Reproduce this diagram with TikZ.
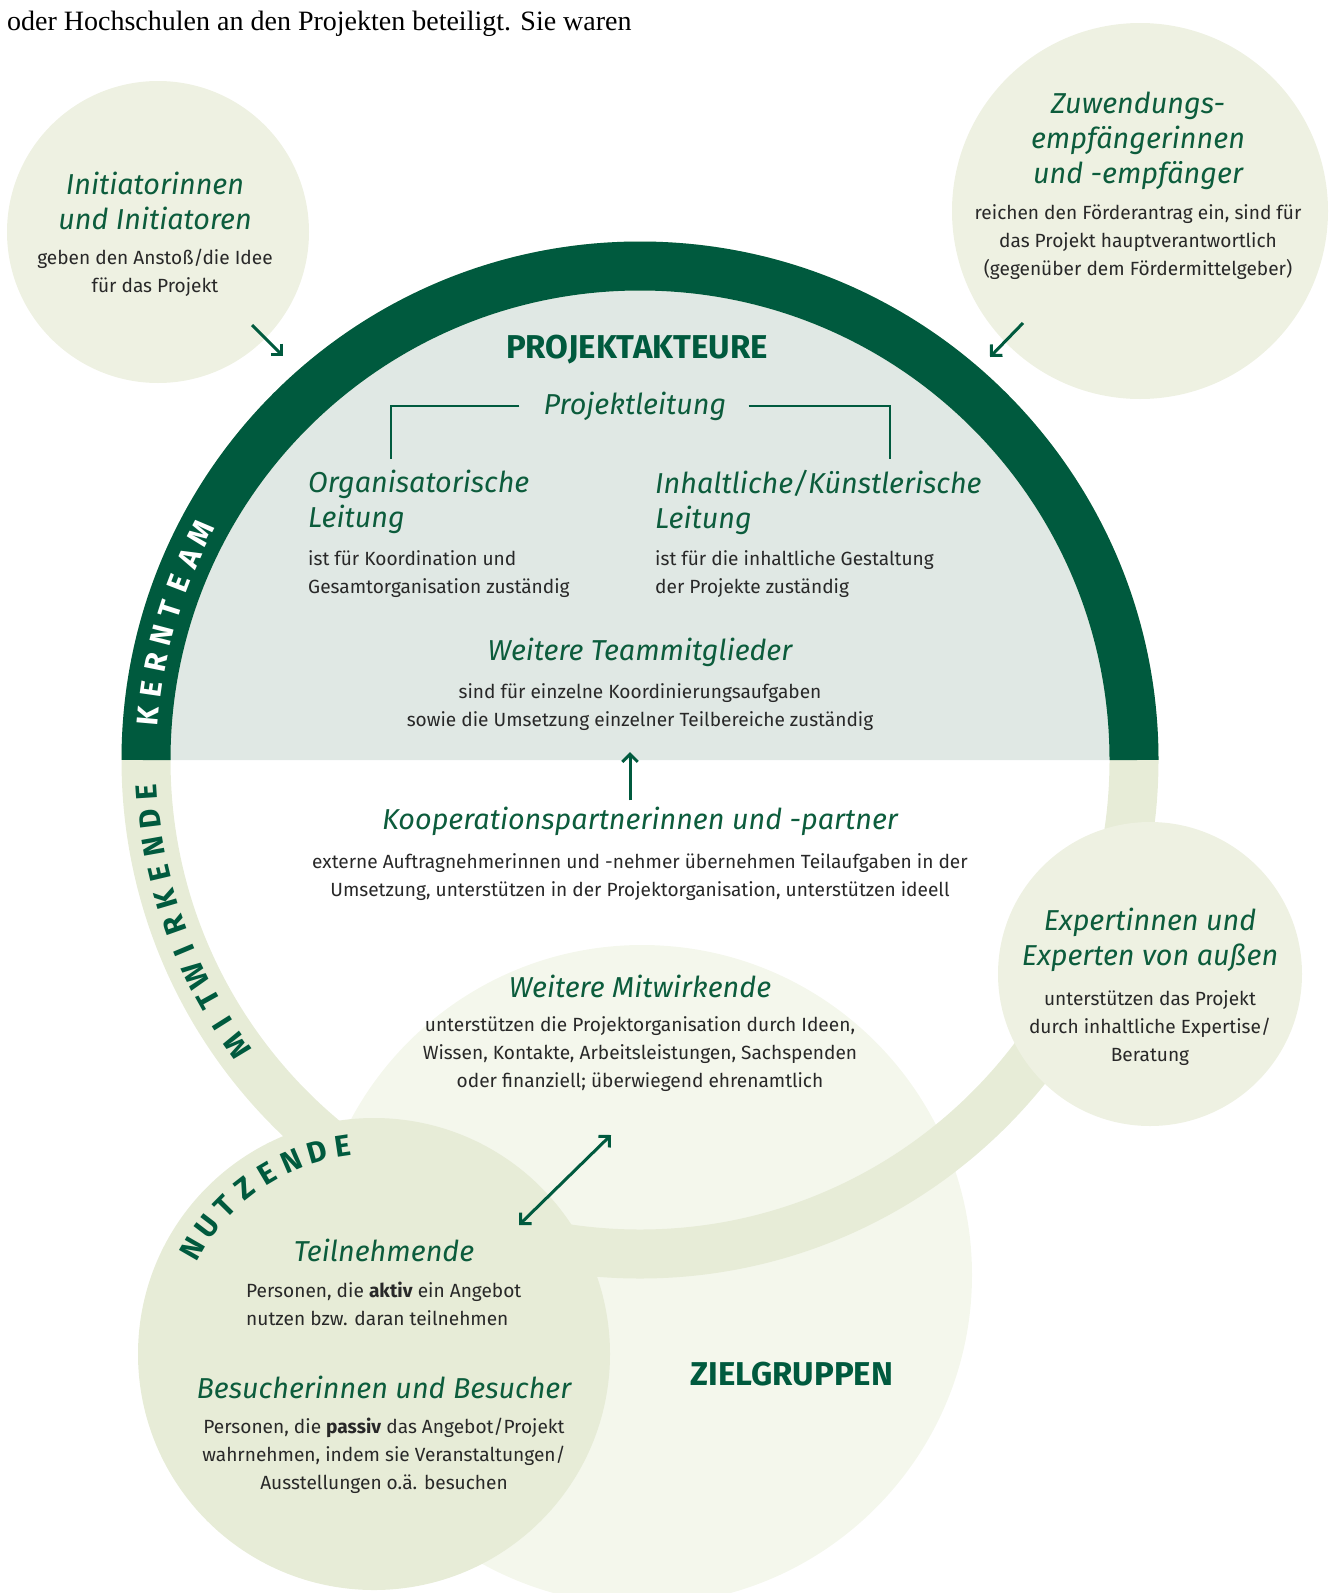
\documentclass[tikz,border=0pt]{standalone}
\usepackage{fontspec}
\setmainfont{Fira Sans}
\newfontfamily\introfont{Liberation Serif}
\usepackage{xcolor}
\usetikzlibrary{arrows.meta,positioning}

\definecolor{kerngreen}{RGB}{0,90,62}
\definecolor{headgreen}{RGB}{12,92,60}
\definecolor{bodygray}{RGB}{40,40,40}
\definecolor{innergray}{RGB}{224,232,228}
\definecolor{ringlight}{RGB}{231,236,215}
\definecolor{bubble}{RGB}{238,241,226}
\definecolor{zielfill}{RGB}{244,247,236}

\begin{document}
\begin{tikzpicture}[x=1pt, y=1pt, >={Straight Barb[angle=90:11pt]}]
    % Define styles
    \tikzstyle{headtext} = [text=headgreen, font=\fontsize{28.8}{35}\selectfont\itshape, align=center, inner sep=0pt]
    \tikzstyle{bodytext} = [text=bodygray, font=\fontsize{19.1}{28}\selectfont, align=center, inner sep=0pt]
    \tikzstyle{capstext} = [text=kerngreen, font=\fontsize{33}{38}\selectfont\bfseries, inner sep=0pt]
    \tikzstyle{arcletter} = [font=\fontsize{30}{30}\selectfont\bfseries, inner sep=0pt]
    \tikzstyle{arrowline} = [->, kerngreen, line width=3pt]
    \tikzstyle{bracketline} = [kerngreen, line width=2.2pt]

    \useasboundingbox (0,0) rectangle (1330,-1593);

    % Centres
    \coordinate (ring) at (640,-760);
    \coordinate (ini) at (158,-232);
    \coordinate (zuw) at (1140,-211);
    \coordinate (ziel) at (642,-1275);
    \coordinate (teil) at (374,-1354);
    \coordinate (expert) at (1150,-974);

    % Circles
    \fill[bubble] (ini) circle[radius=151];
    \fill[bubble] (zuw) circle[radius=188];
    \fill[innergray] ([shift={(0:470)}]ring) arc[start angle=0, end angle=180, radius=470] -- cycle;
    \fill[zielfill] (ziel) circle[radius=330];
    \draw[ringlight, line width=49pt] (ring) circle[radius=494];
    \fill[ringlight] (teil) circle[radius=236];
    \fill[bubble] (expert) circle[radius=152];
    \draw[kerngreen, line width=49pt] ([shift={(0:494)}]ring) arc[start angle=0, end angle=180, radius=494];

    % Ring labels
    \foreach \ch [count=\i from 0, evaluate=\i as \a using 174.9-3.17*\i] in {K,E,R,N,T,E,A,M}
        \node[arcletter, text=white, rotate=\a-90] (kern-\i) at ([shift={(\a:494)}]ring) {\ch};
    \foreach \ch [count=\i from 0, evaluate=\i as \a using 215.4-3.17*\i] in {M,I,T,W,I,R,K,E,N,D,E}
        \node[arcletter, text=kerngreen, rotate=\a-90] (mitw-\i) at ([shift={(\a:494)}]ring) {\ch};
    \foreach \ch [count=\i from 0, evaluate=\i as \a using 150-7.36*\i] in {N,U,T,Z,E,N,D,E}
        \node[arcletter, text=kerngreen, rotate=\a-90] (nutz-\i) at ([shift={(\a:210)}]teil) {\ch};

    % Page text above
    \node[anchor=west, inner sep=0pt, font=\introfont\fontsize{28}{32}\selectfont] (intro) at (7,-24) {oder Hochschulen an den Projekten beteiligt. Sie waren};

    % Outer circles
    \node[headtext] (iniHead) at (155,-201) {Initiatorinnen\\und Initiatoren};
    \node[bodytext] (iniText) at (155,-273) {geben den Anstoß/die Idee\\für das Projekt};
    \node[headtext] (zuwHead) at (1138,-141) {Zuwendungs-\\empfängerinnen\\und -empfänger};
    \node[bodytext] (zuwText) at (1138,-242) {reichen den Förderantrag ein, sind für\\das Projekt hauptverantwortlich\\(gegenüber dem Fördermittelgeber)};
    \node[headtext] (expHead) at (1150,-940) {Expertinnen und\\Experten von außen};
    \node[bodytext] (expText) at (1150,-1028) {unterstützen das Projekt\\durch inhaltliche Expertise/\\Beratung};

    % Kernteam
    \node[capstext] (akteure) at (637,-350) {PROJEKTAKTEURE};
    \node[headtext] (leitung) at (635,-406) {Projektleitung};
    \node[headtext, anchor=west, align=left] (orgHead) at (308,-502) {Organisatorische\\Leitung};
    \node[bodytext, anchor=west, align=left] (orgText) at (308,-574) {ist für Koordination und\\Gesamtorganisation zuständig};
    \node[headtext, anchor=west, align=left] (inhHead) at (655,-502) {Inhaltliche/Künstlerische\\Leitung};
    \node[bodytext, anchor=west, align=left] (inhText) at (655,-574) {ist für die inhaltliche Gestaltung\\der Projekte zuständig};
    \node[headtext] (teamHead) at (640,-652) {Weitere Teammitglieder};
    \node[bodytext] (teamText) at (640,-707) {sind für einzelne Koordinierungsaufgaben\\sowie die Umsetzung einzelner Teilbereiche zuständig};

    % Mitwirkende
    \node[headtext] (koopHead) at (640,-821) {Kooperationspartnerinnen und -partner};
    \node[bodytext] (koopText) at (640,-877) {externe Auftragnehmerinnen und -nehmer übernehmen Teilaufgaben in der\\Umsetzung, unterstützen in der Projektorganisation, unterstützen ideell};
    \node[headtext] (mitHead) at (640,-986) {Weitere Mitwirkende};
    \node[bodytext] (mitText) at (640,-1054) {unterstützen die Projektorganisation durch Ideen,\\Wissen, Kontakte, Arbeitsleistungen, Sachspenden\\oder finanziell; überwiegend ehrenamtlich};

    % Nutzende
    \node[headtext] (teilHead) at (384,-1250) {Teilnehmende};
    \node[bodytext, anchor=west, align=left] (teilText) at (246,-1304) {Personen, die \textbf{aktiv} ein Angebot\\nutzen bzw. daran teilnehmen};
    \node[headtext] (besHead) at (384,-1387) {Besucherinnen und Besucher};
    \node[bodytext] (besText) at (384,-1456) {Personen, die \textbf{passiv} das Angebot/Projekt\\wahrnehmen, indem sie Veranstaltungen/\\Ausstellungen o.ä. besuchen};
    \node[capstext] (zielgr) at (792,-1374) {ZIELGRUPPEN};

    % Bracket
    \coordinate (orgTop) at (391,-459);
    \coordinate (inhTop) at (890,-459);
    \draw[bracketline] ([xshift=-24pt]leitung.west) -| (orgTop);
    \draw[bracketline] ([xshift=22pt]leitung.east) -| (inhTop);

    % Arrows
    \coordinate (iniA) at (252,-325);
    \coordinate (iniB) at (283,-356);
    \coordinate (zuwA) at (1023,-323);
    \coordinate (zuwB) at (990,-357);
    \coordinate (koopB) at (630,-752);
    \coordinate (teilA) at (519,-1225);
    \coordinate (teilB) at (611,-1135);
    \draw[arrowline] (iniA) -- (iniB);
    \draw[arrowline] (zuwA) -- (zuwB);
    \draw[arrowline, shorten <=6pt] (koopHead.north -| koopB) -- (koopB);
    \draw[arrowline, <->] (teilA) -- (teilB);
\end{tikzpicture}
\end{document}
